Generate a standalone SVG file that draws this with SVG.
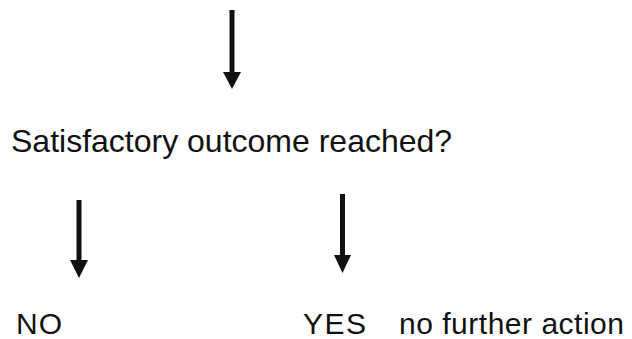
<svg xmlns="http://www.w3.org/2000/svg" width="632" height="339" viewBox="0 0 632 339">
  <style>
    .t { font-family: "Liberation Sans", Arial, sans-serif; fill: #111; }
    .c { stroke: #111; stroke-width: 5; fill: none; }
    .h { fill: #111; }
  </style>
  <rect width="632" height="339" fill="#fff"/>
  <g id="connectors">
    <path class="c" d="M232,10 V72"/>
    <polygon class="h" points="223,72 241,72 232,89"/>
    <path class="c" d="M79,200 V260"/>
    <polygon class="h" points="70,260 88,260 79,278"/>
    <path class="c" d="M342.5,194 V255"/>
    <polygon class="h" points="334,255 351,255 342.5,273"/>
  </g>
  <g id="question">
    <text class="t" x="11" y="152" font-size="32">Satisfactory outcome reached?</text>
  </g>
  <g id="no">
    <text class="t" x="16" y="334" font-size="30" textLength="46">NO</text>
  </g>
  <g id="yes">
    <text class="t" x="303" y="334" font-size="30" textLength="63">YES</text>
    <text class="t" x="399" y="334" font-size="30" textLength="225">no further action</text>
  </g>
</svg>
